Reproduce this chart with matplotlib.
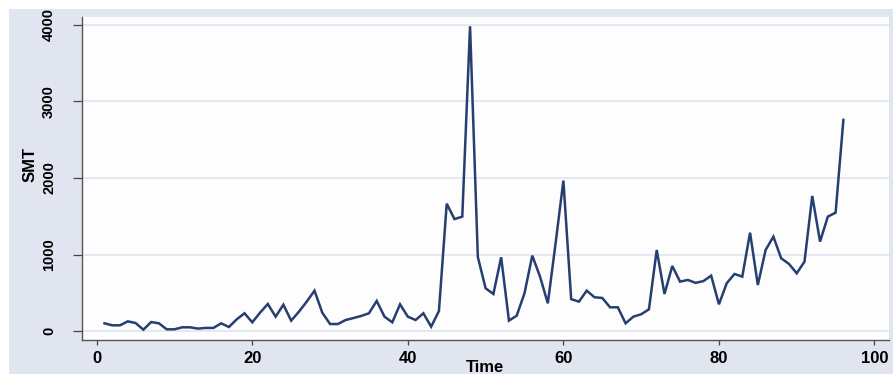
import matplotlib
matplotlib.use("Agg")
import matplotlib.pyplot as plt

time = list(range(1, 97))
smt = [104, 78, 78, 130, 108, 21, 121, 104, 26, 26,
       52, 52, 35, 44, 44, 104, 56, 156, 235, 117,
       243, 356, 191, 347, 139, 256, 387, 530, 243, 95,
       95, 147, 173, 200, 235, 396, 191, 117, 352, 191,
       147, 235, 60, 265, 1665, 1464, 1496, 3980, 970, 561,
       487, 966, 139, 204, 496, 987, 713, 365, 1150, 1966,
       420, 387, 530, 444, 435, 313, 313, 104, 191, 222,
       287, 1061, 487, 852, 648, 670, 632, 655, 726, 352,
       627, 748, 713, 1287, 604, 1061, 1235, 953, 879, 757,
       909, 1766, 1170, 1496, 1548, 2758]
xticks = [0, 20, 40, 60, 80, 100]
yticks = [0, 1000, 2000, 3000, 4000]

W, H = 893, 374
fig = plt.figure(figsize=(W / 100, H / 100), dpi=100)
fig.patch.set_facecolor("white")
# bluish graph region
fig.patches.append(plt.Rectangle((9 / W, 0), 1 - 9 / W, 1 - 9 / H,
                                 transform=fig.transFigure, facecolor="#e1e5f0",
                                 edgecolor="none", zorder=-10))

left, right, top, bottom = 81.7, 888.5, 16.5, 339.5
ax = fig.add_axes([left / W, 1 - bottom / H, (right - left) / W, (bottom - top) / H])
ax.set_facecolor("#fdfdfe")

ax.plot(time, smt, color="#263f70", lw=1.8, solid_joinstyle="miter")

ax.set_xlim(-1.93, 101.8)
ax.set_ylim(-107, 4107)
ax.set_xticks(xticks)
ax.set_yticks(yticks)
ax.set_xticklabels([str(t) for t in xticks], fontsize=12, fontweight="bold",
                   family="Liberation Sans")
ax.set_yticklabels([str(t) for t in yticks], fontsize=10.5, family="Liberation Sans",
                   fontweight="bold", rotation=90, va="center")
ax.grid(axis="y", color="#e2e6f1", lw=1.3)
ax.set_axisbelow(True)
for s in ["top", "right"]:
    ax.spines[s].set_visible(False)
for s in ["left", "bottom"]:
    ax.spines[s].set_color("#555555")
    ax.spines[s].set_linewidth(1.0)
ax.tick_params(axis="y", length=6.5, width=0.9, color="#444444", pad=12)
ax.tick_params(axis="x", length=3.6, width=0.9, color="#444444", pad=5)

fig.text(485 / W, 1 - 368 / H, "Time", ha="center", va="center", fontsize=12,
         fontweight="bold", family="Liberation Sans")
fig.text(30 / W, 1 - 165 / H, "SMT", ha="center", va="center", fontsize=12,
         rotation=90, family="Liberation Sans", fontweight="bold")

fig.savefig("out.png", dpi=100, facecolor=fig.get_facecolor())
